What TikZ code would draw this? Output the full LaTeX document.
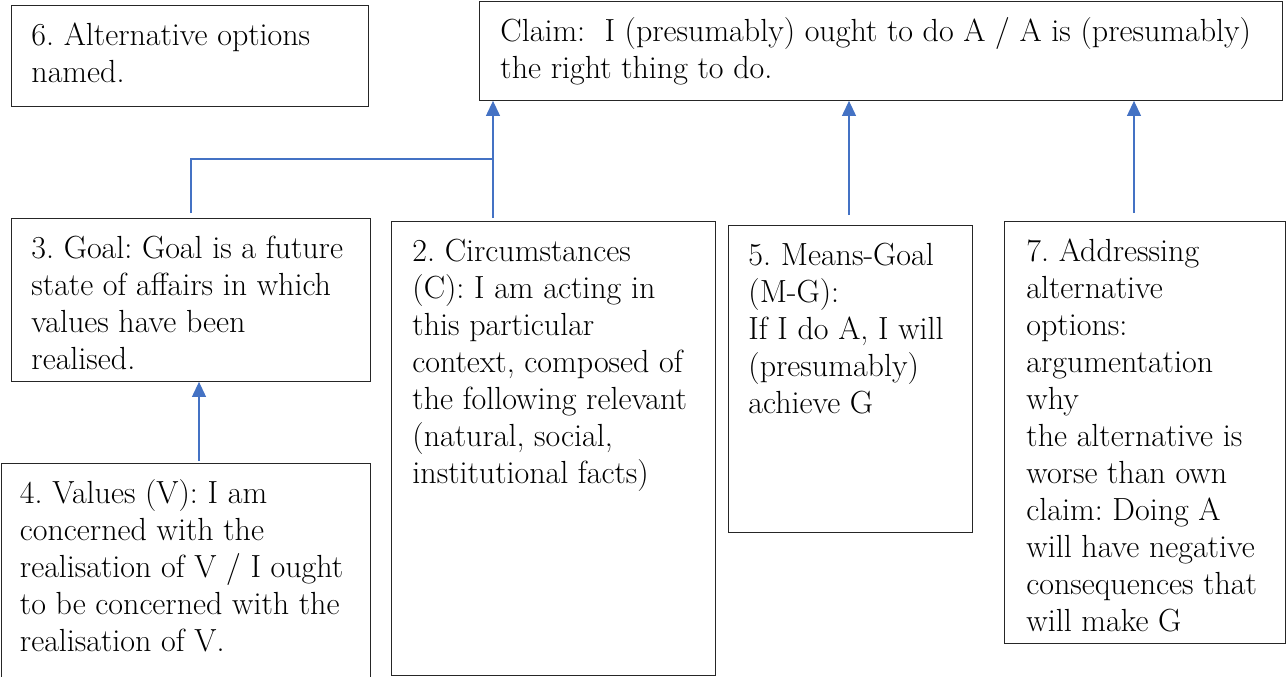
\documentclass[tikz,border=0pt]{standalone}
\usepackage{fontspec}
\usetikzlibrary{arrows.meta}
\definecolor{arrowblue}{HTML}{4472C4}
\frenchspacing
\newcommand{\boxtxt}[4]{\hspace*{#1pt}\parbox[t][#3pt][t]{#2pt}{\raggedright\frenchspacing\rule{0pt}{40pt}#4}}
\begin{document}
\begin{tikzpicture}[x=1pt,y=-1pt,
  textbox/.style={draw=black!85, line width=0.9pt, inner sep=0pt, anchor=north west,
    font=\fontsize{32}{37}\selectfont},
  conn/.style={draw=arrowblue, line width=1.1pt},
  arr/.style={conn, -{Triangle[width=14pt,length=15pt]}}]
\useasboundingbox (0,0) rectangle (1286,677);
% boxes
\node[textbox] (b6) at (11,5) {\boxtxt{20}{337}{101}{6. Alternative options\\named.}};
\node[textbox] (claim) at (479,1) {\boxtxt{21}{782}{99}{Claim:\ \ I (presumably) ought to do A / A is (presumably)\\the right thing to do.}};
\node[textbox] (b3) at (11,218) {\boxtxt{20}{339}{163}{3. Goal: Goal is a future\\state of affairs in which\\values have been\\realised.}};
\node[textbox] (b4) at (0.5,463) {\boxtxt{19}{350}{240}{4. Values (V): I am\\concerned with the\\realisation of V / I ought\\to be concerned with the\\realisation of V.}};
\node[textbox] (b2) at (391,221) {\boxtxt{21}{303}{454}{2. Circumstances\\(C): I am acting in\\this particular\\context, composed of\\the following relevant\\(natural, social,\\institutional facts)}};
\node[textbox] (b5) at (728,225) {\boxtxt{20}{224}{307}{5. Means-Goal\\(M-G):\\If I do A, I will\\(presumably)\\achieve G}};
\node[textbox] (b7) at (1004,221) {\boxtxt{22}{259}{422}{7. Addressing\\alternative\\options:\\argumentation\\why\\the alternative is\\worse than own\\claim: Doing A\\will have negative\\consequences that\\will make G}};
% connector start points
\coordinate (a4) at (199,461);
\coordinate (a3) at (191,213);
\coordinate (a2) at (493,218);
\coordinate (j) at (493,159);
\coordinate (a5) at (849,215);
\coordinate (a7) at (1134,213);
% connectors
\draw[arr] (a4) -- (a4 |- b3.south);
\draw[conn] (a3) |- (j);
\draw[arr] (a2) -- (a2 |- claim.south);
\draw[arr] (a5) -- (a5 |- claim.south);
\draw[arr] (a7) -- (a7 |- claim.south);
\end{tikzpicture}
\end{document}
